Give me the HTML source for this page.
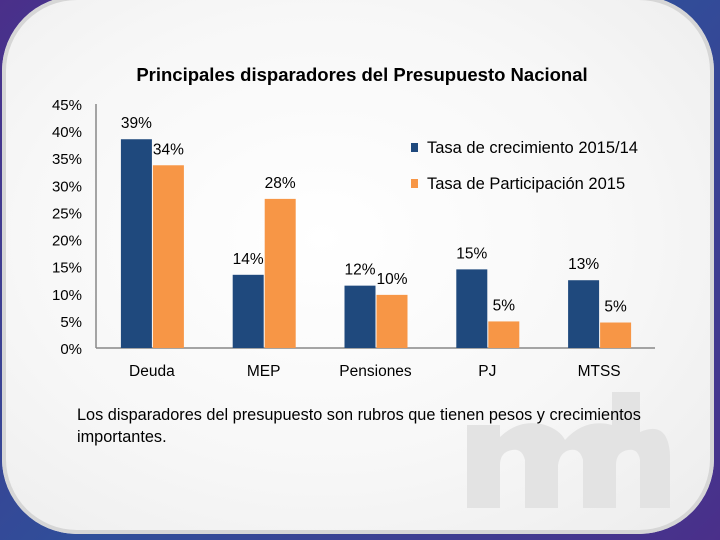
<!DOCTYPE html>
<html><head><meta charset="utf-8"><style>
html,body{margin:0;padding:0;width:720px;height:540px;overflow:hidden;background:linear-gradient(135deg,#4a2f8a,#2f4f9a 50%,#4a2f8a);}
#panel{position:absolute;left:2px;top:-4px;width:712px;height:538px;border-radius:75px;background:radial-gradient(ellipse at 45% 45%,#ffffff 0%,#f7f7f7 55%,#ececec 100%);box-shadow:inset 0 0 0 4px #d6d6d6;}
svg{position:absolute;left:0;top:0}
text{font-family:"Liberation Sans",sans-serif;fill:#000}
</style></head><body>
<div id="panel"></div>
<svg width="720" height="540" id="chart">
<g fill="#e3e3e3">
<path d="M467 508 V425 H500 V437 Q520 418 545 425 Q560 430 565 440 Q585 418 612 425 V392 H640 V432 Q668 420 670 455 V508 H640 V460 Q638 448 628 450 Q616 452 616 465 V508 H583 V460 Q580 448 570 450 Q560 452 558 465 V508 H525 V460 Q522 448 512 450 Q500 452 500 465 V508 Z"/>
</g>
<text x="362" y="81" text-anchor="middle" font-size="18.5" font-weight="bold">Principales disparadores del Presupuesto Nacional</text>
<g id="yaxis"></g>
<g id="bars"></g>
<g>
<rect x="411" y="143" width="7" height="9" fill="#1f497d"/>
<text x="427" y="153" font-size="16.5">Tasa de crecimiento 2015/14</text>
<rect x="411" y="179" width="7" height="9" fill="#f79646"/>
<text x="427" y="189" font-size="16.5">Tasa de Participación 2015</text>
</g>
<text x="77" y="420" font-size="16.3">Los disparadores del presupuesto son rubros que tienen pesos y crecimientos</text>
<text x="77" y="442" font-size="16.3">importantes.</text>
</svg>
<script>
const categories=["Deuda","MEP","Pensiones","PJ","MTSS"];
const crecimiento=[38.5,13.5,11.5,14.5,12.5];
const participacion=[33.7,27.5,9.8,4.9,4.7];
const crecLabels=["39%","14%","12%","15%","13%"];
const partLabels=["34%","28%","10%","5%","5%"];
const yTicks=[0,5,10,15,20,25,30,35,40,45];
const NS="http://www.w3.org/2000/svg";
const x0=96,x1=655,yBase=348,yTop=104,maxV=45;
const y=v=>yBase-(v/maxV)*(yBase-yTop);
const step=(x1-x0)/categories.length;
const cx=i=>x0+step*(i+0.5);
function mk(tag,attrs,parent){const e=document.createElementNS(NS,tag);for(const k in attrs)e.setAttribute(k,attrs[k]);parent.appendChild(e);return e;}
const ya=document.getElementById('yaxis'),bg=document.getElementById('bars');
let ax=mk('line',{x1:x0,y1:yTop,x2:x0,y2:yBase,stroke:'#888','stroke-width':1.5},ya);

let xa=mk('line',{x1:x0,y1:yBase,x2:x1,y2:yBase,stroke:'#888','stroke-width':1.5},ya);

yTicks.forEach(t=>{const e=mk('text',{x:82,y:y(t)+6,'text-anchor':'end','font-size':15},ya);e.textContent=t+'%';
});
const bw=31;
categories.forEach((c,i)=>{
 const c0=cx(i);
 const b1=mk('rect',{x:c0-bw,y:y(crecimiento[i]),width:bw,height:yBase-y(crecimiento[i]),fill:'#1f497d'},bg);
 
 const b2=mk('rect',{x:c0+1,y:y(participacion[i]),width:bw,height:yBase-y(participacion[i]),fill:'#f79646'},bg);
 
 const l1=mk('text',{x:c0-bw/2,y:y(crecimiento[i])-11,'text-anchor':'middle','font-size':15.5},bg);l1.textContent=crecLabels[i];
 
 const l2=mk('text',{x:c0+1+bw/2,y:y(participacion[i])-11,'text-anchor':'middle','font-size':15.5},bg);l2.textContent=partLabels[i];
 
 const cl=mk('text',{x:c0,y:376,'text-anchor':'middle','font-size':15.5},bg);cl.textContent=c;
 
});
</script>
</body></html>
